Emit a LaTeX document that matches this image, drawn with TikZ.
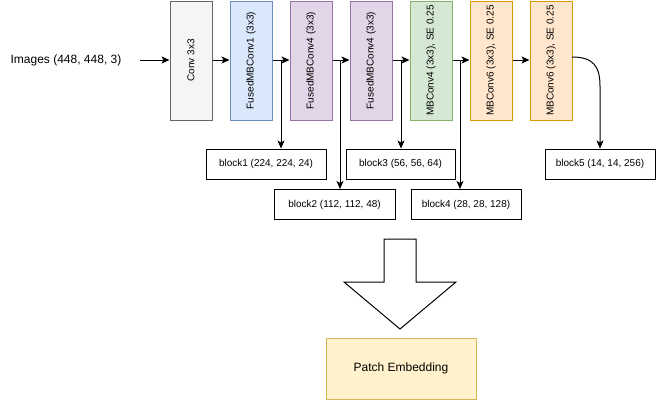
\documentclass[tikz,border=0pt]{standalone}
\usepackage{fontspec}
\setmainfont{Liberation Sans}
\usetikzlibrary{arrows.meta}
\definecolor{grayfill}{HTML}{F5F5F5}\definecolor{grayline}{HTML}{666666}
\definecolor{bluefill}{HTML}{DAE8FC}\definecolor{blueline}{HTML}{6C8EBF}
\definecolor{purpfill}{HTML}{E1D5E7}\definecolor{purpline}{HTML}{9673A6}
\definecolor{greenfill}{HTML}{D5E8D4}\definecolor{greenline}{HTML}{82B366}
\definecolor{orfill}{HTML}{FFE6CC}\definecolor{orline}{HTML}{D79B00}
\definecolor{yelfill}{HTML}{FFF2CC}\definecolor{yelline}{HTML}{D6B656}
\tikzset{
  stage/.style={draw, line width=1pt, minimum width=42pt, minimum height=119pt, inner sep=0pt, font=\fontsize{10}{12}\selectfont},
  blockbox/.style={draw, line width=1pt, minimum height=30pt, inner sep=0pt, font=\fontsize{10}{12}\selectfont},
  conn/.style={line width=1pt, -{Stealth[length=8pt,width=7pt,inset=2pt]}},
}
\begin{document}
\begin{tikzpicture}[x=1pt,y=-1pt]
\useasboundingbox (0,0) rectangle (656,400);
\node[font=\fontsize{12}{14}\selectfont, inner sep=0pt] (in) at (66,60) {Images (448, 448, 3)};
\coordinate (ins) at (140,60);
\node[stage, fill=grayfill, draw=grayline] (conv) at (191,60.5) {\rotatebox{90}{Conv 3x3}};
\node[stage, fill=bluefill, draw=blueline] (f1) at (251,60.5) {\rotatebox{90}{FusedMBConv1 (3x3)}};
\node[stage, fill=purpfill, draw=purpline] (f4a) at (311,60.5) {\rotatebox{90}{FusedMBConv4 (3x3)}};
\node[stage, fill=purpfill, draw=purpline] (f4b) at (371,60.5) {\rotatebox{90}{FusedMBConv4 (3x3)}};
\node[stage, fill=greenfill, draw=greenline] (g) at (431,60.5) {\rotatebox{90}{MBConv4 (3x3), SE 0.25}};
\node[stage, fill=orfill, draw=orline] (o1) at (491,60.5) {\rotatebox{90}{MBConv6 (3x3), SE 0.25}};
\node[stage, fill=orfill, draw=orline] (o2) at (551,60.5) {\rotatebox{90}{MBConv6 (3x3), SE 0.25}};

\node[blockbox, minimum width=120pt] (b1) at (266,164) {block1 (224, 224, 24)};
\node[blockbox, minimum width=121pt] (b2) at (334.5,204.5) {block2 (112, 112, 48)};
\node[blockbox, minimum width=109pt] (b3) at (400.5,164) {block3 (56, 56, 64)};
\node[blockbox, minimum width=110pt] (b4) at (466,204.5) {block4 (28, 28, 128)};
\node[blockbox, minimum width=110pt] (b5) at (600,164) {block5 (14, 14, 256)};

\node[draw=yelline, fill=yelfill, line width=1pt, minimum width=150pt, minimum height=61pt, inner sep=0pt, font=\fontsize{12}{14}\selectfont] (pe) at (401,368.5) {Patch Embedding};

\draw[conn] (ins) -- (conv.west |- ins);
\draw[conn] (conv.east |- ins) -- (f1.west |- ins);
\draw[conn] (f1.east |- ins) -- (f4a.west |- ins);
\draw[conn] (f4a.east |- ins) -- (f4b.west |- ins);
\draw[conn] (f4b.east |- ins) -- (g.west |- ins);
\draw[conn] (g.east |- ins) -- (o1.west |- ins);
\draw[conn] (o1.east |- ins) -- (o2.west |- ins);

\coordinate (s1) at (281,60);
\coordinate (s2) at (340,60);
\coordinate (s3) at (401,60);
\coordinate (s4) at (460,60);
\draw[conn] (s1) -- (b1.north -| s1);
\draw[conn] (s2) -- (b2.north -| s2);
\draw[conn] (s3) -- (b3.north -| s3);
\draw[conn] (s4) -- (b4.north -| s4);
\coordinate (s5) at (572,57);
\draw[conn] (s5) .. controls (593,57) and (600,66) .. (600,86) -- (b5.north);

\draw[line width=1pt, line join=miter, fill=white] (384,239) -- (416,239) -- (416,282) -- (456,282) -- (400,329) -- (344,282) -- (384,282) -- cycle;
\end{tikzpicture}
\end{document}
